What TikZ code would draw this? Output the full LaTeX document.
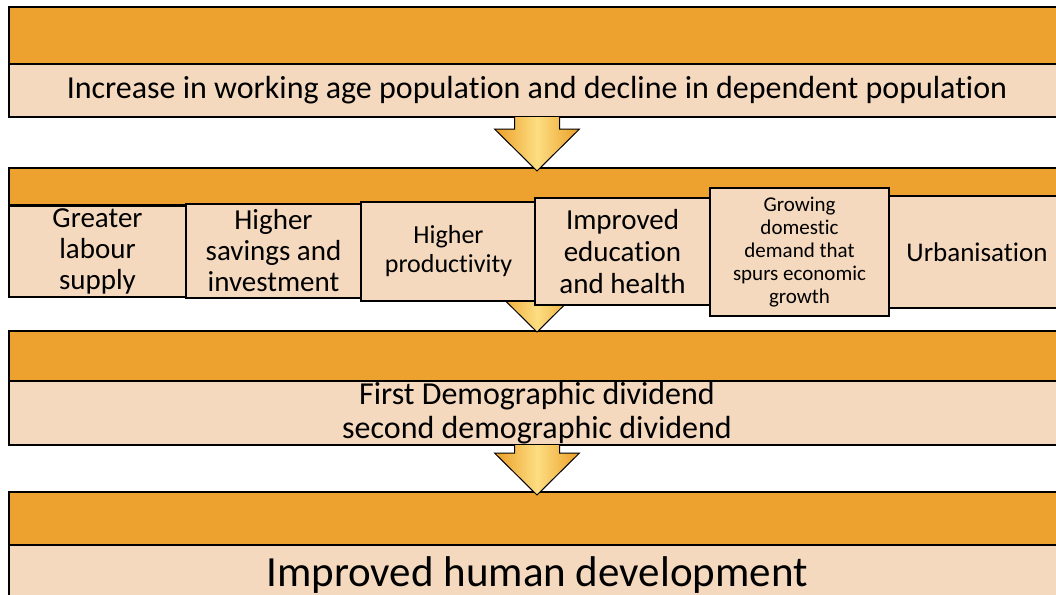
\documentclass[tikz,border=0pt]{standalone}
\usepackage{fontspec}
\setmainfont[Ligatures=NoCommon]{Carlito}
\usetikzlibrary{calc}
\definecolor{bandorange}{RGB}{237,162,47}
\definecolor{bandpeach}{RGB}{245,217,190}
\definecolor{arroworange}{RGB}{236,158,38}
\definecolor{arrowlight}{RGB}{252,222,130}

\tikzset{
  darkbar/.style={draw=black, line width=1.2pt, fill=bandorange, minimum width=1056, inner sep=0pt, outer sep=0pt},
  lightbar/.style={draw=black, line width=1.2pt, fill=bandpeach, minimum width=1056, inner sep=0pt, outer sep=0pt, align=center},
  factor/.style={draw=black, line width=1.2pt, fill=bandpeach, inner sep=0pt, outer sep=0pt, align=center},
  blockarrow/.style={draw=black, line width=1pt, left color=arroworange, right color=arroworange, middle color=arrowlight, line join=miter}
}

\begin{document}
\begin{tikzpicture}[x=1pt, y=-1pt]
\clip (0,0) rectangle (1056,594);
\fill[white] (0,0) rectangle (1056,594);

% Bars
\node[darkbar, minimum height=57] (head1) at (537,35.5) {};
\node[lightbar, minimum height=53, font=\fontsize{32}{36}\selectfont] (row1) at (537,90.5)
  {Increase in working age population and decline in dependent population};
\node[darkbar, minimum height=37] (head2) at (537,186.5) {};
\node[lightbar, minimum height=70] (row2) at (537,240) {};
\node[darkbar, minimum height=50] (head3) at (537,356) {};
\node[lightbar, minimum height=64, font=\fontsize{32}{34}\selectfont] (row3) at (537,413)
  {First Demographic dividend\\second demographic dividend};
\node[darkbar, minimum height=56] (head4) at (537,520) {};
\node[lightbar, minimum height=60, font=\fontsize{43}{48}\selectfont] (row4) at (537,575)
  {Improved human development};

% Arrows
\coordinate (tip1) at ($(head2.north)+(0,3)$);
\coordinate (tip2) at ($(head3.north)+(0,1)$);
\coordinate (tip3) at ($(head4.north)+(0,3)$);
\draw[blockarrow] ($(row1.south)+(-22.5,0)$) -- ($(tip1)+(-22.5,-42)$) -- ($(tip1)+(-42.5,-42)$) -- (tip1)
  -- ($(tip1)+(42.5,-42)$) -- ($(tip1)+(22.5,-42)$) -- ($(row1.south)+(22.5,0)$);
\draw[blockarrow] ($(row2.south)+(-22.5,0)$) -- ($(tip2)+(-22.5,-42)$) -- ($(tip2)+(-42.5,-42)$) -- (tip2)
  -- ($(tip2)+(42.5,-42)$) -- ($(tip2)+(22.5,-42)$) -- ($(row2.south)+(22.5,0)$);
\draw[blockarrow] ($(row3.south)+(-22.5,0)$) -- ($(tip3)+(-22.5,-42)$) -- ($(tip3)+(-42.5,-42)$) -- (tip3)
  -- ($(tip3)+(42.5,-42)$) -- ($(tip3)+(22.5,-42)$) -- ($(row3.south)+(22.5,0)$);

% Factors
\node[factor, minimum width=177, minimum height=91, font=\fontsize{29}{31}\selectfont] (labour) at (97.5,251.5)
  {Greater\\labour\\supply};
\node[factor, minimum width=175, minimum height=94, font=\fontsize{29}{31}\selectfont] (savings) at (273.5,251)
  {Higher\\savings and\\investment};
\node[factor, minimum width=175, minimum height=99, font=\fontsize{26}{29}\selectfont] (productivity) at (448.5,251.5)
  {Higher\\productivity};
\node[factor, minimum width=175, minimum height=107, font=\fontsize{29}{32}\selectfont] (education) at (622.5,251.5)
  {Improved\\education\\and health};
\node[factor, minimum width=179, minimum height=128, font=\fontsize{21}{23}\selectfont] (demand) at (799.5,252)
  {Growing\\domestic\\demand that\\spurs economic\\growth};
\node[factor, minimum width=176, minimum height=112, font=\fontsize{27}{30}\selectfont] (urban) at (977,252)
  {Urbanisation};
\end{tikzpicture}
\end{document}
